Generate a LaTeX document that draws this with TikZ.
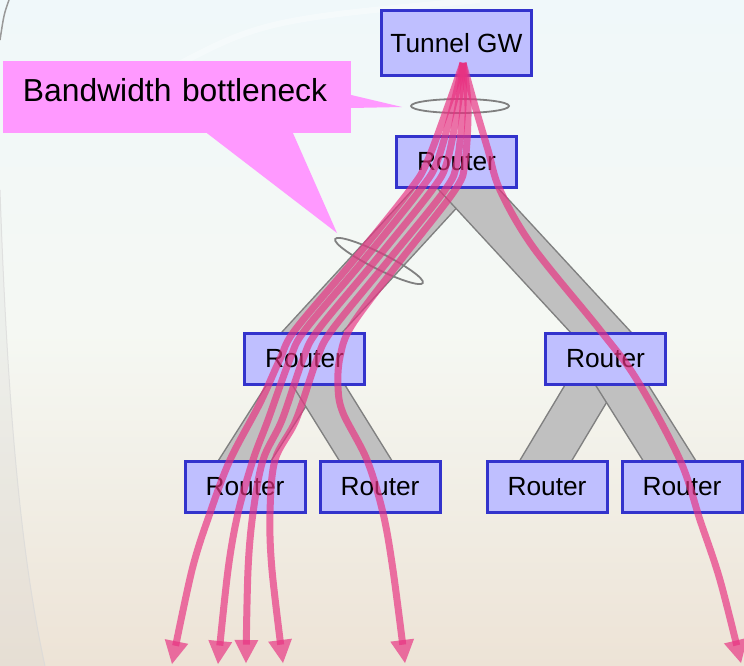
\documentclass[tikz,border=0pt]{standalone}
\usepackage{fontspec}
\setmainfont{Liberation Sans}
\usetikzlibrary{arrows.meta,shapes.geometric,backgrounds}
\definecolor{boxfill}{RGB}{191,191,255}
\definecolor{boxline}{RGB}{51,51,204}
\definecolor{notepink}{RGB}{255,153,255}
\definecolor{linkfill}{RGB}{192,192,192}
\definecolor{linkline}{RGB}{128,128,128}
\definecolor{flowpink}{RGB}{232,50,130}
\definecolor{bgtop}{RGB}{240,248,250}
\definecolor{bgmid}{RGB}{245,248,243}
\definecolor{bgbot}{RGB}{237,227,214}
\tikzstyle{router} = [rectangle, minimum width=120pt, minimum height=51pt, inner sep=0pt, draw=boxline, line width=3pt, fill=boxfill, font=\fontsize{26.3}{30}\selectfont]
\tikzstyle{link} = [draw=linkline, line width=1.5pt, double=linkfill, double distance=43pt]
\tikzstyle{neck} = [ellipse, draw=linkline, line width=1.8pt, minimum width=98pt, minimum height=14pt, inner sep=0pt]
\tikzstyle{notebox} = [rectangle, fill=notepink, minimum width=348pt, minimum height=72pt, text width=308pt, inner xsep=20pt, align=left, text height=23pt, text depth=13pt, font=\fontsize{31.8}{36}\selectfont]
\tikzstyle{flow} = [draw=flowpink, opacity=0.68, line width=7pt, -{Triangle[width=24pt,length=23pt,line width=0pt]}]

\begin{document}
\begin{tikzpicture}[x=1pt,y=-1pt]
        \useasboundingbox (0,0) rectangle (744,666);
        \node (gw) [router, minimum width=150pt, minimum height=65pt] at (456.5,43) {Tunnel GW};
        \node (r0) [router, below of=gw, node distance=119pt] {Router};
        \node (r1) [router, below of=r0, node distance=197pt, xshift=-152pt] {Router};
        \node (r2) [router, below of=r0, node distance=197pt, xshift=149pt] {Router};
        \node (r3) [router, below of=r1, node distance=128pt, xshift=-59.5pt] {Router};
        \node (r4) [router, below of=r1, node distance=128pt, xshift=75.5pt] {Router};
        \node (r5) [router, below of=r2, node distance=128pt, xshift=-58.5pt] {Router};
        \node (r6) [router, below of=r2, node distance=128pt, xshift=76.5pt] {Router};

            % Background and links behind the routers
        \begin{pgfonlayer}{background}
        \shade[top color=bgtop, bottom color=bgbot, middle color=bgmid] (0,0) rectangle (744,666);
        \fill[gray!40, opacity=0.2] (0,190) .. controls (8,420) and (22,560) .. (45,666) -- (0,666) -- cycle;
        \draw[white!70!gray, line width=1pt, opacity=0.7] (0,190) .. controls (8,420) and (22,560) .. (45,666);
        \draw[gray!80, line width=1.5pt] (9,0) .. controls (4,14) .. (0,40);
        \draw[white, line width=6pt, opacity=0.35] (150,80) .. controls (260,20) .. (480,0);
        \draw [link] ([xshift=12pt]r0.center) -- ([xshift=-17pt]r1.center);
        \draw [link] ([xshift=-13pt]r0.center) -- ([xshift=20pt]r2.center);
        \draw [link] ([xshift=5pt]r1.center) -- ([xshift=-17pt]r3.center);
        \draw [link] ([xshift=-2pt]r1.center) -- ([xshift=2pt]r4.center);
        \draw [link] ([xshift=1pt]r2.center) -- ([xshift=-17pt]r5.center);
        \draw [link] (r2.center) -- ([xshift=4pt]r6.center);
        \end{pgfonlayer}

            % Bottleneck rings and the callout
        \node (neckA) [neck] at (460,106) {};
        \node (neckB) [neck, minimum height=16pt, rotate=-26.6] at (379,261) {};
        \node (note) [notebox] at (177,97) {Bandwidth bottleneck};
        \fill [notepink] ([yshift=2pt]note.east) -- (402,107) -- ([yshift=-11pt]note.east) -- cycle;
        \fill [notepink] ([xshift=30pt]note.south) -- (337,233) -- ([xshift=116pt]note.south) -- cycle;

            % Tunnelled flows out of the gateway
        \coordinate (src) at ([xshift=6.5pt,yshift=-20pt]gw.center);
        \coordinate (tipA) at (172,664);
        \coordinate (tipB) at (218,664);
        \coordinate (tipC) at (246,663);
        \coordinate (tipD) at (283,663);
        \coordinate (tipE) at (405,663);
        \coordinate (tipF) at (741,663);
        \draw [flow] plot[smooth, tension=0.55] coordinates {(src) (448,106) (427,162) (410,190) (353,261) (295,330) (280,359) (260,403) (230,460) (210,513) (192,570) (tipA)};
        \draw [flow] plot[smooth, tension=0.55] coordinates {(src) (453,106) (437,162) (420,190) (363,261) (305,330) (290,359) (268,420) (253,460) (238,513) (228,570) (tipB)};
        \draw [flow] plot[smooth, tension=0.55] coordinates {(src) (458,106) (447,162) (432,190) (375,261) (318,330) (303,359) (282,420) (263,460) (253,513) (248,570) (tipC)};
        \draw [flow] plot[smooth, tension=0.55] coordinates {(src) (463,106) (457,162) (445,190) (388,261) (332,330) (317,359) (296,420) (275,460) (270,513) (272,570) (tipD)};
        \draw [flow] plot[smooth, tension=0.55] coordinates {(src) (468,106) (465,162) (455,190) (400,261) (352,325) (340,357) (338,387) (343,413) (367,460) (383,513) (393,570) (tipE)};
        \draw [flow] plot[smooth, tension=0.55] coordinates {(src) (475,106) (488,150) (500,190) (533,247) (600,330) (637,380) (680,460) (700,520) (720,580) (tipF)};
    \end{tikzpicture}
\end{document}
